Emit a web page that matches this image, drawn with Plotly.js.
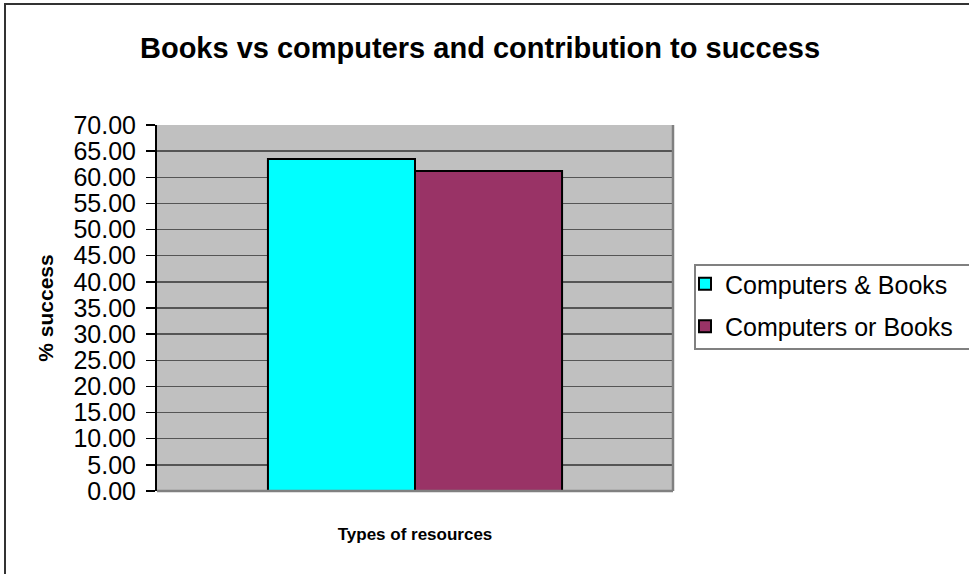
<!DOCTYPE html>
<html>
<head>
<meta charset="utf-8">
<script src="https://cdn.plot.ly/plotly-3.0.1.min.js"></script>
<style>html,body{margin:0;padding:0;background:#fff;}#chart{width:969px;height:574px;}</style>
</head>
<body>
<div id="chart"></div>
<script>
const categories = ["Types of resources"];
const seriesNames = ["Computers & Books", "Computers or Books"];
const computersAndBooks = [63.5];
const computersOrBooks = [61.2];
const yTickValues = [0,5,10,15,20,25,30,35,40,45,50,55,60,65,70];

const colors = ["#00FFFF", "#993366"];
const seriesValues = [computersAndBooks, computersOrBooks];

const traces = seriesValues.map((vals, i) => ({
  type: "bar",
  name: seriesNames[i],
  x: categories,
  y: vals,
  legendgroup: "g" + i,
  marker: {color: colors[i], line: {color: "#000000", width: 2}},
  hoverinfo: "y+name"
}));

const L = 157, R = 673, T = 125, B = 491;
const W = 969, H = 574;
const px = x => (x - L) / (R - L);
const py = y => (B - y) / (B - T);
const FONT = "Liberation Sans, Arial, sans-serif";

const layout = {
  width: W, height: H,
  margin: {l: L, r: W - R, t: T, b: H - B, pad: 0, autoexpand: false},
  paper_bgcolor: "#FFFFFF",
  plot_bgcolor: "#C0C0C0",
  font: {family: FONT, color: "#000000"},
  title: {
    text: "<b>Books vs computers and contribution to success</b>",
    font: {size: 29, family: FONT, color: "#000"},
    xref: "container", yref: "container",
    x: 480 / W, xanchor: "center",
    y: 1 - 48 / H, yanchor: "middle"
  },
  barmode: "group",
  bargap: 0.43,
  bargroupgap: 0,
  xaxis: {
    type: "category",
    showticklabels: false,
    ticks: "",
    showgrid: false,
    showline: false,
    zeroline: false,
    title: {text: "<b>Types of resources</b>", font: {size: 17}, standoff: 37}
  },
  yaxis: {
    range: [0, 70],
    tickvals: yTickValues,
    tickformat: ".2f",
    tickfont: {size: 25},
    ticks: "outside",
    ticklen: 9,
    tickwidth: 1.5,
    tickcolor: "#000000",
    ticklabelstandoff: 5,
    showline: true,
    linecolor: "#000000",
    linewidth: 2,
    showgrid: true,
    gridcolor: "#555555",
    gridwidth: 1.5,
    zeroline: false,
    title: {text: "<b>% success</b>", font: {size: 21}, standoff: 14}
  },
  showlegend: true,
  legend: {
    x: px(685), xanchor: "left",
    y: py(261), yanchor: "top",
    bgcolor: "rgba(0,0,0,0)",
    borderwidth: 0,
    font: {size: 25},
    tracegroupgap: 7,
    traceorder: "grouped",
    itemwidth: 30
  },
  shapes: [
    {type: "rect", xref: "paper", yref: "paper", x0: px(695), x1: px(985), y0: py(265), y1: py(349),
     line: {color: "#808080", width: 2}, fillcolor: "#FFFFFF", layer: "below"},
    {type: "line", xref: "paper", yref: "paper", x0: px(673), x1: px(673), y0: 0, y1: 1,
     line: {color: "#808080", width: 2.5}},
    {type: "line", xref: "paper", yref: "paper", x0: px(157), x1: px(673), y0: 0, y1: 0,
     line: {color: "#808080", width: 2.5}, layer: "above"},
    {type: "rect", xref: "paper", yref: "paper", x0: px(5), x1: px(980), y0: py(4), y1: py(590),
     line: {color: "#333333", width: 2}, fillcolor: "rgba(0,0,0,0)", layer: "above"}
  ]
};

Plotly.newPlot("chart", traces, layout, {displayModeBar: false, staticPlot: true});
</script>
</body>
</html>
